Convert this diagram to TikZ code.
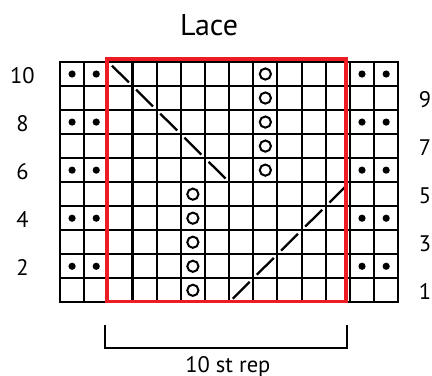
\documentclass[tikz,border=0pt]{standalone}
\usepackage{fontspec}
\setmainfont{PT Sans}
\usepackage{xcolor}
\usepackage{tikz}
\usetikzlibrary{positioning, calc}

\begin{document}
\begin{tikzpicture}[x=24.16pt, y=24.03pt]
% --- GRADE DE TRICO: 14 PONTOS x 10 CARREIRAS ---
\definecolor{moldura}{HTML}{ED1C24}
\tikzset{
  linha/.style={line width=2.1pt},
  furo/.style={line width=2pt},
  rotulo/.style={inner sep=0pt, font=\fontsize{22.5}{27}\selectfont}
}
\useasboundingbox (-2.483,-3.025) rectangle (15.397,12.58);

% LAYER 1: Titulo
\node[anchor=base, inner sep=0pt, font=\fontsize{30}{36}\selectfont] (titulo) at (6.17,11.12) {Lace};

% LAYER 2: Grade
\draw[linha] (0,0) rectangle (14,10);
\foreach \c in {1,...,13} \draw[linha] (\c,0) -- (\c,10);
\foreach \r in {1,...,9} \draw[linha] (0,\r) -- (14,\r);

% LAYER 3: Pontos (tricô) nas carreiras pares
\foreach \r in {2,4,6,8,10}
  \foreach \c in {1,2,13,14}
    \fill (\c-0.5,\r-0.5) circle (3.6pt);

% LAYER 4: Laçadas
\foreach \r in {6,...,10} \draw[furo] (8.5,\r-0.5) circle (5.6pt);
\foreach \r in {1,...,5} \draw[furo] (5.5,\r-0.5) circle (5.6pt);

% LAYER 5: Diagonais (diminuições)
\foreach \c in {3,...,7}
  \draw[linha, line width=2.3pt] ({\c-0.85},{12.85-\c}) -- ({\c-0.15},{12.15-\c});
\foreach \c in {8,...,12}
  \draw[linha, line width=2.3pt] ({\c-0.85},{\c-7.85}) -- ({\c-0.15},{\c-7.15});

% LAYER 6: Moldura da repeticao
\draw[moldura, line width=3.8pt] (1.945,0.03) rectangle (11.83,10.11);

% LAYER 7: Numeros das carreiras
\foreach \r in {2,4,6,8,10}
  \node[rotulo] (esq\r) at (-1.552,\r-0.57) {\r};
\foreach \r in {1,3,5,7,9}
  \node[rotulo] (dir\r) at (15.11,\r-0.57) {\r};

% LAYER 8: Chave da repeticao
\coordinate (chaveA) at (1.86,-0.945);
\coordinate (chaveB) at (1.86,-1.90);
\coordinate (chaveC) at (11.88,-1.90);
\coordinate (chaveD) at (11.88,-0.945);
\draw[linha] (chaveA) -- (chaveB) -- (chaveC) -- (chaveD);
\node[rotulo, anchor=base] (rep) at (6.95,-2.9) {10 st rep};
\end{tikzpicture}
\end{document}
